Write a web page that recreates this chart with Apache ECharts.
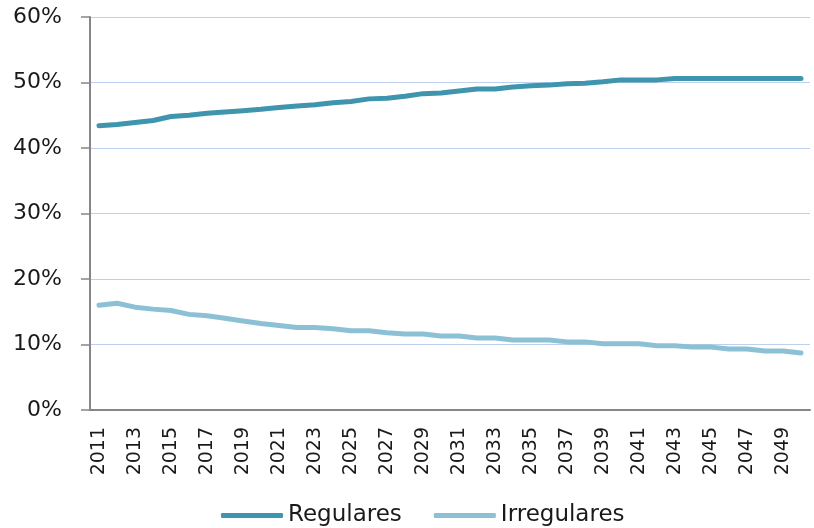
<!DOCTYPE html>
<html>
<head>
<meta charset="utf-8">
<script src="https://cdn.jsdelivr.net/npm/echarts@6/dist/echarts.min.js"></script>
<style>
  html, body { margin: 0; padding: 0; background: #fff; }
  #chart { width: 814px; height: 528px; }
</style>
</head>
<body>
<div id="chart"></div>
<script>
// years 2011..2050
const years = [];
for (let y = 2011; y <= 2050; y++) years.push(String(y));

// share in %
const regulares = [
  43.4, 43.6, 43.9, 44.2, 44.8, 45.0, 45.3, 45.5, 45.7, 45.9,
  46.2, 46.4, 46.6, 46.9, 47.1, 47.5, 47.6, 47.9, 48.3, 48.4,
  48.7, 49.0, 49.0, 49.3, 49.5, 49.6, 49.8, 49.9, 50.1, 50.4,
  50.4, 50.4, 50.6, 50.6, 50.6, 50.6, 50.6, 50.6, 50.6, 50.6
];
const irregulares = [
  16.0, 16.3, 15.7, 15.4, 15.2, 14.6, 14.4, 14.0, 13.6, 13.2,
  12.9, 12.6, 12.6, 12.4, 12.1, 12.1, 11.8, 11.6, 11.6, 11.3,
  11.3, 11.0, 11.0, 10.7, 10.7, 10.7, 10.4, 10.4, 10.1, 10.1,
  10.1, 9.8, 9.8, 9.6, 9.6, 9.3, 9.3, 9.0, 9.0, 8.7
];

const chart = echarts.init(document.getElementById('chart'));

const option = {
  animation: false,
  grid: { left: 90, right: 4, top: 17, bottom: 118 },
  legend: {
    top: 499,
    left: 216,
    itemWidth: 62,
    itemHeight: 5,
    itemGap: 32,
    icon: 'roundRect',
    textStyle: { fontFamily: 'DejaVu Sans', fontSize: 23, color: '#1a1a1a', padding: [0, 0, 0, 0] },
    data: ['Regulares', 'Irregulares']
  },
  xAxis: {
    type: 'category',
    data: years,
    boundaryGap: true,
    axisLine: { lineStyle: { color: '#868686', width: 2 } },
    axisTick: { interval: 0, length: 5, lineStyle: { color: '#868686', width: 1.5 } },
    axisLabel: {
      interval: 1,
      rotate: 90,
      margin: 17,
      fontFamily: 'DejaVu Sans',
      fontSize: 19,
      color: '#1a1a1a'
    },
    splitLine: { show: false }
  },
  yAxis: {
    type: 'value',
    min: 0,
    max: 60,
    interval: 10,
    axisLine: { show: true, lineStyle: { color: '#868686', width: 2 } },
    axisTick: { show: true, length: 9, lineStyle: { color: '#868686', width: 1.5 } },
    axisLabel: {
      formatter: '{value}%',
      margin: 28,
      fontFamily: 'DejaVu Sans',
      fontSize: 22,
      color: '#1a1a1a'
    },
    splitLine: { lineStyle: { color: '#bfd0ee', width: 1.2 } }
  },
  series: [
    {
      name: 'Regulares',
      type: 'line',
      data: regulares,
      symbol: 'none',
      color: '#3e95ad',
      lineStyle: { width: 5, cap: 'round', join: 'round' }
    },
    {
      name: 'Irregulares',
      type: 'line',
      data: irregulares,
      symbol: 'none',
      color: '#8cc1d5',
      lineStyle: { width: 5, cap: 'round', join: 'round' }
    }
  ]
};

chart.setOption(option);
</script>
</body>
</html>
